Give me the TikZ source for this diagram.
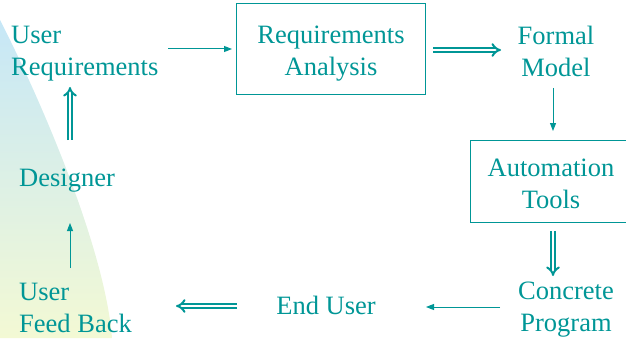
\documentclass[tikz,border=0pt]{standalone}
\usepackage{fontspec}
\setmainfont{Liberation Serif}
\usetikzlibrary{arrows.meta}
\definecolor{teal1}{RGB}{0,150,150}
\definecolor{bgblue}{RGB}{198,231,247}
\definecolor{bgyellow}{RGB}{243,249,212}
\tikzset{
  lbl/.style={text=teal1, font=\fontsize{26.5}{32}\selectfont, align=center, inner sep=0pt},
  lbll/.style={lbl, align=left, anchor=west},
  boxed/.style={draw=teal1, line width=1pt, inner sep=0pt},
  thin arrow/.style={draw=teal1, line width=1pt, -{Triangle[length=8pt,width=6pt]}},
  dbl arrow/.style={draw=teal1, double=white, double distance=2.4pt, line width=2pt, -{Implies[length=8pt,width=13pt]}},
}
\begin{document}
\begin{tikzpicture}[x=1pt,y=1pt]
\useasboundingbox (0,0) rectangle (626,338);
\shade[top color=bgblue, bottom color=bgyellow] (0,318) .. controls (40,240) and (105,90) .. (112,0) -- (0,0) -- cycle;

\node[lbll] (ureq) at (11,284) {User\\Requirements};
\node[boxed, minimum width=189pt, minimum height=91pt] (ra) at (330.5,288.5) {};
\node[lbl] (ratext) at (331,284.5) {Requirements\\Analysis};
\node[lbl] (fm) at (556,287) {Formal\\Model};
\node[boxed, minimum width=156pt, minimum height=82pt] (at) at (548,157) {};
\node[lbl] (attext) at (551,154.5) {Automation\\Tools};
\node[lbl] (cp) at (566,28) {Concrete\\Program};
\node[lbl] (eu) at (326,33) {End User};
\node[lbll] (ufb) at (19,30) {User\\Feed Back};
\node[lbll] (des) at (19,157) {Designer};

\coordinate (a1s) at (168,289);
\coordinate (a1e) at (232,289);
\draw[thin arrow] (a1s) -- (a1e);
\coordinate (a2s) at (433,288);
\coordinate (a2e) at (501,288);
\draw[dbl arrow] (a2s) -- (a2e);
\coordinate (a3s) at (553,250);
\coordinate (a3e) at (553,207);
\draw[thin arrow] (a3s) -- (a3e);
\coordinate (a4s) at (553,107);
\coordinate (a4e) at (553,62);
\draw[dbl arrow] (a4s) -- (a4e);
\coordinate (a5s) at (500,31);
\coordinate (a5e) at (426,31);
\draw[thin arrow] (a5s) -- (a5e);
\coordinate (a6s) at (237,32);
\coordinate (a6e) at (176,32);
\draw[dbl arrow] (a6s) -- (a6e);
\coordinate (a7s) at (70,70);
\coordinate (a7e) at (70,115);
\draw[thin arrow] (a7s) -- (a7e);
\coordinate (a8s) at (70,198);
\coordinate (a8e) at (70,251);
\draw[dbl arrow] (a8s) -- (a8e);
\end{tikzpicture}
\end{document}
